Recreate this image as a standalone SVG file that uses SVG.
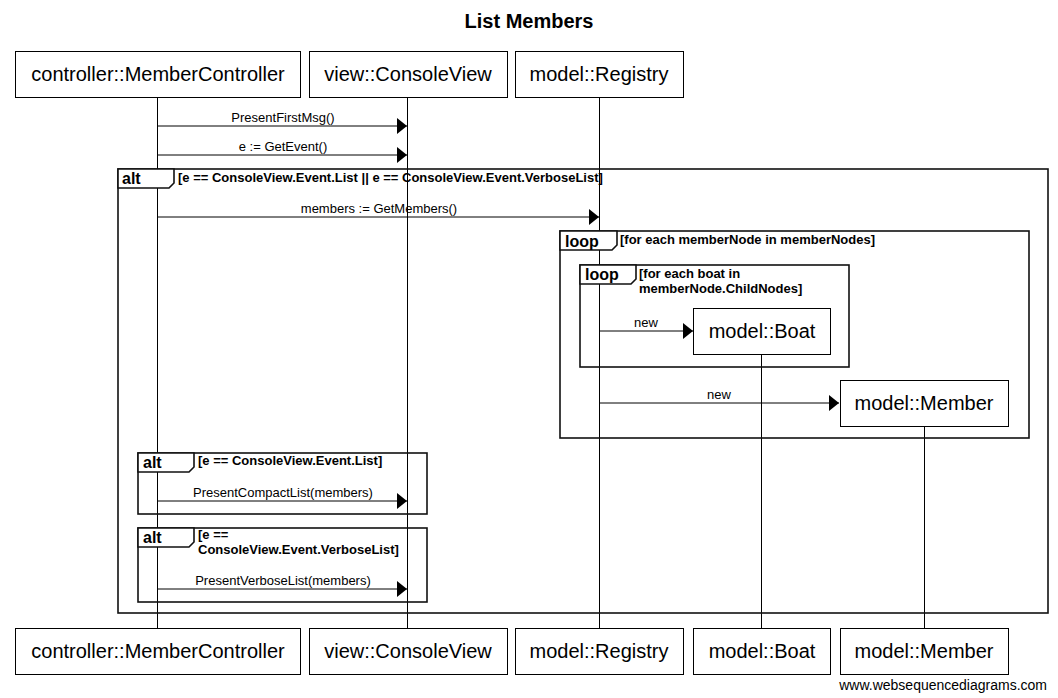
<svg xmlns="http://www.w3.org/2000/svg" width="1058" height="698" viewBox="0 0 1058 698">
<defs>
<style>
.actor rect{fill:#fff;stroke:#000;stroke-width:1}
.actor text{font-family:"Liberation Sans",Arial,sans-serif;font-size:20px;text-anchor:middle;fill:#000}
.life{stroke:#000;stroke-width:1}
.frame{fill:none;stroke:#111;stroke-width:1.6}
.tab{fill:#fff;stroke:#111;stroke-width:1.6}
.kw{font-family:"Liberation Sans",Arial,sans-serif;font-size:16px;font-weight:bold;fill:#000}
.guard{font-family:"Liberation Sans",Arial,sans-serif;font-size:13px;font-weight:bold;fill:#000}
.msg{stroke:#000;stroke-width:1;fill:none}
.lbl{font-family:"Liberation Sans",Arial,sans-serif;font-size:13px;text-anchor:middle;fill:#000}
</style>
<marker id="arr" markerWidth="10" markerHeight="16" refX="10" refY="8" orient="auto" markerUnits="userSpaceOnUse">
<path d="M0,0 L10,8 L0,16 Z" fill="#000"/>
</marker>
</defs>
<rect width="1058" height="698" fill="#fff"/>
<text x="529" y="28" font-family="Liberation Sans,Arial,sans-serif" font-size="20" font-weight="bold" text-anchor="middle">List Members</text>

<g id="lifelines">
<line class="life" x1="157.5" y1="97" x2="157.5" y2="628"/>
<line class="life" x1="407.5" y1="97" x2="407.5" y2="628"/>
<line class="life" x1="599.5" y1="97" x2="599.5" y2="628"/>
<line class="life" x1="761.5" y1="354" x2="761.5" y2="628"/>
<line class="life" x1="924.5" y1="426" x2="924.5" y2="628"/>
</g>

<g id="frames">
<g id="alt-outer">
<rect class="frame" x="118" y="169" width="930" height="444"/>
<path class="tab" d="M118,169 H174 V183 L169,188 H118 Z"/>
<text class="kw" x="122" y="184">alt</text>
<text class="guard" x="178" y="182">[e == ConsoleView.Event.List || e == ConsoleView.Event.VerboseList]</text>
</g>
<g id="loop-outer">
<rect class="frame" x="560" y="231" width="469" height="207"/>
<path class="tab" d="M560,231 H617 V245 L612,250 H560 Z"/>
<text class="kw" x="565" y="247">loop</text>
<text class="guard" x="620" y="244">[for each memberNode in memberNodes]</text>
</g>
<g id="loop-inner">
<rect class="frame" x="580" y="265" width="269" height="102"/>
<path class="tab" d="M580,265 H636 V279 L631,284 H580 Z"/>
<text class="kw" x="585" y="280">loop</text>
<text class="guard" x="639" y="278">[for each boat in</text>
<text class="guard" x="639" y="293">memberNode.ChildNodes]</text>
</g>
<g id="alt-list">
<rect class="frame" x="138" y="453" width="289" height="61"/>
<path class="tab" d="M138,453 H194 V467 L189,472 H138 Z"/>
<text class="kw" x="143" y="468">alt</text>
<text class="guard" x="198" y="465">[e == ConsoleView.Event.List]</text>
</g>
<g id="alt-verbose">
<rect class="frame" x="138" y="528" width="289" height="74"/>
<path class="tab" d="M138,528 H194 V542 L189,547 H138 Z"/>
<text class="kw" x="143" y="543">alt</text>
<text class="guard" x="198" y="539">[e ==</text>
<text class="guard" x="198" y="554">ConsoleView.Event.VerboseList]</text>
</g>
</g>

<g id="connectors">
<line class="msg" x1="157.5" y1="126" x2="407" y2="126" marker-end="url(#arr)"/>
<text class="lbl" x="283" y="122">PresentFirstMsg()</text>
<line class="msg" x1="157.5" y1="155" x2="407" y2="155" marker-end="url(#arr)"/>
<text class="lbl" x="283" y="151">e := GetEvent()</text>
<line class="msg" x1="157.5" y1="217" x2="599" y2="217" marker-end="url(#arr)"/>
<text class="lbl" x="379" y="213">members := GetMembers()</text>
<line class="msg" x1="599.5" y1="331" x2="693" y2="331" marker-end="url(#arr)"/>
<text class="lbl" x="646" y="327">new</text>
<line class="msg" x1="599.5" y1="403" x2="839" y2="403" marker-end="url(#arr)"/>
<text class="lbl" x="719" y="399">new</text>
<line class="msg" x1="157.5" y1="501" x2="407" y2="501" marker-end="url(#arr)"/>
<text class="lbl" x="283" y="497">PresentCompactList(members)</text>
<line class="msg" x1="157.5" y1="589" x2="407" y2="589" marker-end="url(#arr)"/>
<text class="lbl" x="283" y="585">PresentVerboseList(members)</text>
</g>

<g id="controller" class="actor">
<rect x="15.5" y="51.5" width="285" height="46"/>
<text x="158" y="81">controller::MemberController</text>
<rect x="15.5" y="628.5" width="285" height="46"/>
<text x="158" y="658">controller::MemberController</text>
</g>
<g id="view" class="actor">
<rect x="309.5" y="51.5" width="198" height="46"/>
<text x="408" y="81">view::ConsoleView</text>
<rect x="309.5" y="628.5" width="198" height="46"/>
<text x="408" y="658">view::ConsoleView</text>
</g>
<g id="registry" class="actor">
<rect x="515.5" y="51.5" width="168" height="46"/>
<text x="599" y="81">model::Registry</text>
<rect x="515.5" y="628.5" width="168" height="46"/>
<text x="599" y="658">model::Registry</text>
</g>
<g id="boat" class="actor">
<rect x="693.5" y="308.5" width="137" height="46"/>
<text x="762" y="338">model::Boat</text>
<rect x="693.5" y="628.5" width="137" height="46"/>
<text x="762" y="658">model::Boat</text>
</g>
<g id="member" class="actor">
<rect x="840.5" y="380.5" width="168" height="46"/>
<text x="924" y="410">model::Member</text>
<rect x="840.5" y="628.5" width="168" height="46"/>
<text x="924" y="658">model::Member</text>
</g>

<text x="1047" y="690" font-family="Liberation Sans,Arial,sans-serif" font-size="14" text-anchor="end">www.websequencediagrams.com</text>
</svg>
